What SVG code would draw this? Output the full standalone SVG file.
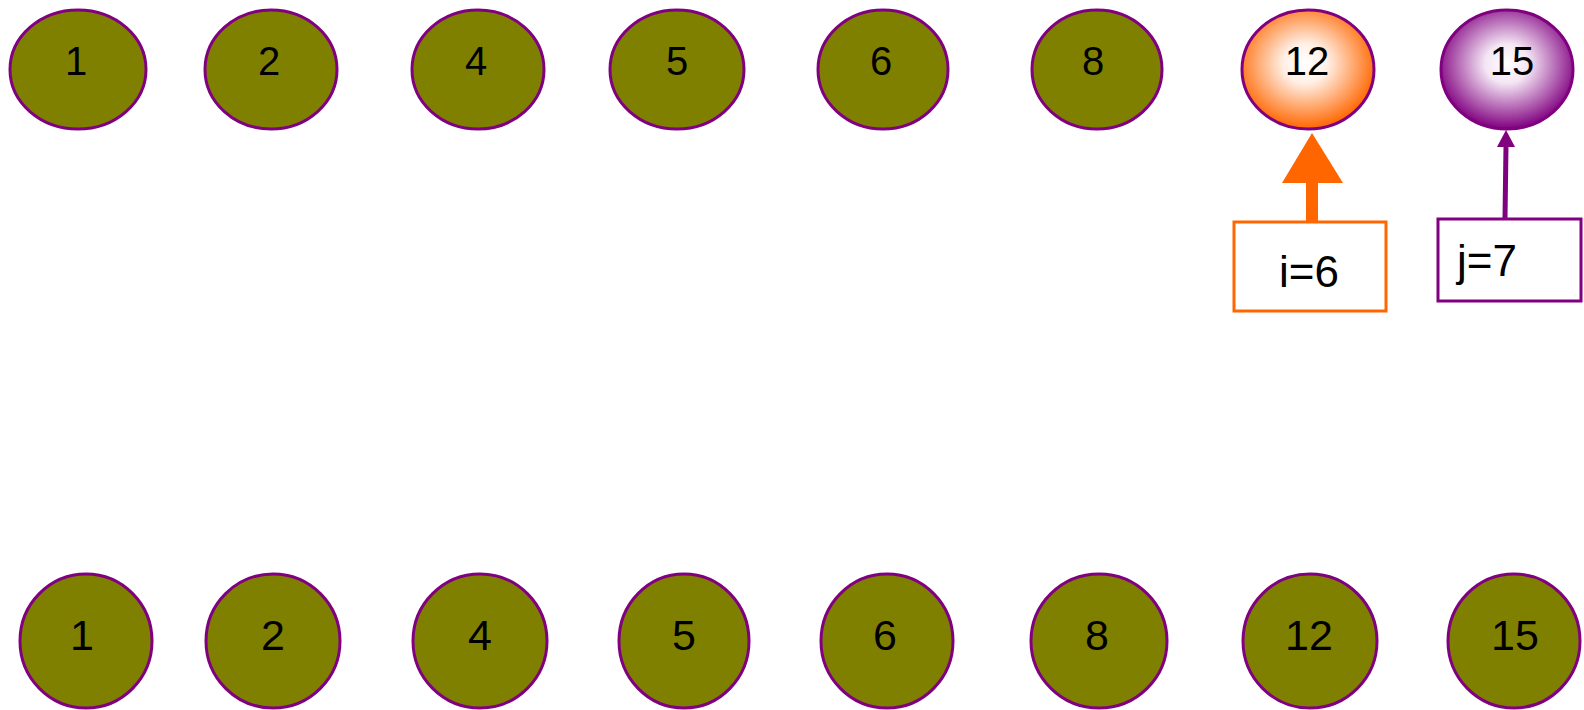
<svg xmlns="http://www.w3.org/2000/svg" width="1584" height="710" viewBox="0 0 1584 710">
<style>
.n{fill:#808000;stroke:#800080;stroke-width:3}
.t{font-family:"Liberation Sans",Arial,sans-serif;font-size:40px;fill:#000;text-anchor:middle}
.u{font-family:"Liberation Sans",Arial,sans-serif;font-size:43px;fill:#000;text-anchor:middle}
.b{font-family:"Liberation Sans",Arial,sans-serif;font-size:44px;fill:#000}
</style>
<defs>
<radialGradient id="gO" cx="0.48" cy="0.45" r="0.55">
<stop offset="0" stop-color="#ffffff"/>
<stop offset="0.3" stop-color="#fff0e6"/>
<stop offset="1" stop-color="#ff6600"/>
</radialGradient>
<radialGradient id="gP" cx="0.5" cy="0.45" r="0.55">
<stop offset="0" stop-color="#ffffff"/>
<stop offset="0.3" stop-color="#f4e6f4"/>
<stop offset="1" stop-color="#800080"/>
</radialGradient>
</defs>
<rect width="1584" height="710" fill="#fff"/>
<g id="top-1"><ellipse class="n" cx="78" cy="69.5" rx="68" ry="59.5"/><text class="t" x="76" y="75">1</text></g>
<g id="top-2"><ellipse class="n" cx="271" cy="69.5" rx="66" ry="59.5"/><text class="t" x="269" y="75">2</text></g>
<g id="top-4"><ellipse class="n" cx="478" cy="69.5" rx="66" ry="59.5"/><text class="t" x="476" y="75">4</text></g>
<g id="top-5"><ellipse class="n" cx="677" cy="69.5" rx="67" ry="59.5"/><text class="t" x="677" y="75">5</text></g>
<g id="top-6"><ellipse class="n" cx="883" cy="69.5" rx="65" ry="59.5"/><text class="t" x="881" y="75">6</text></g>
<g id="top-8"><ellipse class="n" cx="1097" cy="69.5" rx="65" ry="59.5"/><text class="t" x="1093" y="75">8</text></g>
<g id="top-12"><ellipse cx="1308" cy="69.5" rx="66" ry="59.5" fill="url(#gO)" stroke="#800080" stroke-width="3"/><text class="t" x="1307" y="75">12</text></g>
<g id="top-15"><ellipse cx="1507" cy="69.5" rx="66" ry="59.5" fill="url(#gP)" stroke="#800080" stroke-width="3"/><text class="t" x="1512" y="75">15</text></g>

<g id="bot-1"><ellipse class="n" cx="86" cy="641" rx="66" ry="67"/><text class="u" x="82" y="650">1</text></g>
<g id="bot-2"><ellipse class="n" cx="273" cy="641" rx="67" ry="67"/><text class="u" x="273" y="650">2</text></g>
<g id="bot-4"><ellipse class="n" cx="480" cy="641" rx="67" ry="67"/><text class="u" x="480" y="650">4</text></g>
<g id="bot-5"><ellipse class="n" cx="684" cy="641" rx="65" ry="67"/><text class="u" x="684" y="650">5</text></g>
<g id="bot-6"><ellipse class="n" cx="887" cy="641" rx="66" ry="67"/><text class="u" x="885" y="650">6</text></g>
<g id="bot-8"><ellipse class="n" cx="1099" cy="641" rx="68" ry="67"/><text class="u" x="1097" y="650">8</text></g>
<g id="bot-12"><ellipse class="n" cx="1310" cy="641" rx="67" ry="67"/><text class="u" x="1309" y="650">12</text></g>
<g id="bot-15"><ellipse class="n" cx="1514" cy="641" rx="66" ry="67"/><text class="u" x="1515" y="650">15</text></g>

<g id="box-i"><rect x="1234" y="222" width="152" height="89" fill="#fff" stroke="#ff6600" stroke-width="3"/><text class="b" x="1309" y="287" text-anchor="middle">i=6</text></g>
<g id="box-j"><rect x="1438" y="219" width="143" height="82" fill="#fff" stroke="#800080" stroke-width="3"/><text class="b" x="1457" y="276">j=7</text></g>

<g id="connectors">
<line x1="1312" y1="221" x2="1312" y2="182" stroke="#ff6600" stroke-width="12"/>
<polygon points="1312,133 1343,183 1282,183" fill="#ff6600"/>
<line x1="1505" y1="218" x2="1506" y2="146" stroke="#800080" stroke-width="5"/>
<polygon points="1506,130 1515,147 1497,147" fill="#800080"/>
</g>
</svg>
